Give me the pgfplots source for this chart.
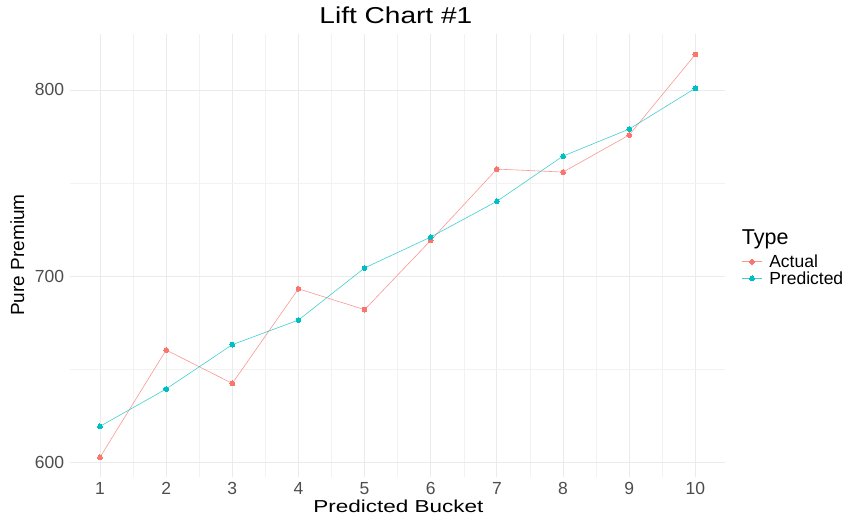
\documentclass[border=0pt]{standalone}
\usepackage{fontspec}
\setmainfont{Liberation Sans}
\usepackage{graphicx}
\usepackage{pgfplots}
\pgfplotsset{compat=1.18}
\definecolor{actual}{HTML}{F8766D}
\definecolor{predicted}{HTML}{00BFC4}
\definecolor{ticktext}{HTML}{4D4D4D}
\begin{document}
\begin{tikzpicture}
\useasboundingbox (0pt,0pt) rectangle (852pt,517pt);
\begin{axis}[
  at={(70.2pt,39.6pt)}, anchor=south west,
  scale only axis, width=654.9pt, height=443.1pt,
  xmin=0.55, xmax=10.45, ymin=591.9, ymax=829.9,
  xtick={1,...,10}, ytick={600,700,800},
  minor xtick={1.5,2.5,...,9.5}, minor ytick={650,750},
  grid=both,
  major grid style={draw=black!8, line width=0.9pt},
  minor grid style={draw=black!5, line width=0.5pt},
  axis line style={draw=none},
  major tick length=0pt, minor tick length=0pt,
  /pgf/number format/assume math mode=true,
  ticklabel style={font=\fontsize{17.5}{20}\selectfont, text=ticktext, inner sep=0pt},
  xticklabel style={anchor=base, yshift=-16.6pt},
  yticklabel style={anchor=east, xshift=-6pt},
  title={\scalebox{1.22}[1]{Lift Chart \#1}},
  title style={at={(axis description cs:0.4973,1.0104)}, anchor=base, inner sep=0pt,
    font=\fontsize{23}{25}\selectfont},
  xlabel={\scalebox{1.3}[1]{Predicted Bucket}},
  xlabel style={at={(axis description cs:0.501,-0.07876)}, anchor=base, inner sep=0pt,
    font=\fontsize{17.3}{20}\selectfont},
  ylabel={Pure Premium},
  ylabel style={at={(axis description cs:-0.07054,0.5019)}, rotate=0, anchor=base, inner sep=0pt,
    font=\fontsize{19}{21}\selectfont},
  legend style={at={(axis description cs:1.02535,0.5053)}, anchor=north west,
    draw=none, fill=none, inner sep=0pt, outer sep=0pt, row sep=0pt, column sep=7pt,
    font=\fontsize{17.5}{15}\selectfont,
    nodes={inner sep=0pt, text height=14pt, text depth=2.5pt},
    cells={anchor=west}},
  legend image code/.code={\draw[mark repeat=2, mark phase=2]
    plot coordinates {(0pt,0pt) (10pt,0pt) (20pt,0pt)};},
]
\addplot[color=actual, line width=0.6pt, draw opacity=0.75, mark=*, mark size=2.4pt,
  mark options={draw opacity=1, fill opacity=1, line width=0pt}]
  coordinates {(1,602.7) (2,660.3) (3,642.4) (4,693.2) (5,682.0)
               (6,719.2) (7,757.5) (8,755.9) (9,775.8) (10,819.1)};
\addlegendentry{Actual}
\addplot[color=predicted, line width=0.6pt, draw opacity=0.75, mark=*, mark size=2.4pt,
  mark options={draw opacity=1, fill opacity=1, line width=0pt}]
  coordinates {(1,619.3) (2,639.4) (3,663.2) (4,676.4) (5,704.4)
               (6,721.0) (7,740.2) (8,764.5) (9,779.0) (10,800.9)};
\addlegendentry{Predicted}
\end{axis}
\node[anchor=base west, inner sep=0pt, font=\fontsize{21.5}{24}\selectfont]
  at (741.7pt,272pt) {Type};
\end{tikzpicture}
\end{document}
